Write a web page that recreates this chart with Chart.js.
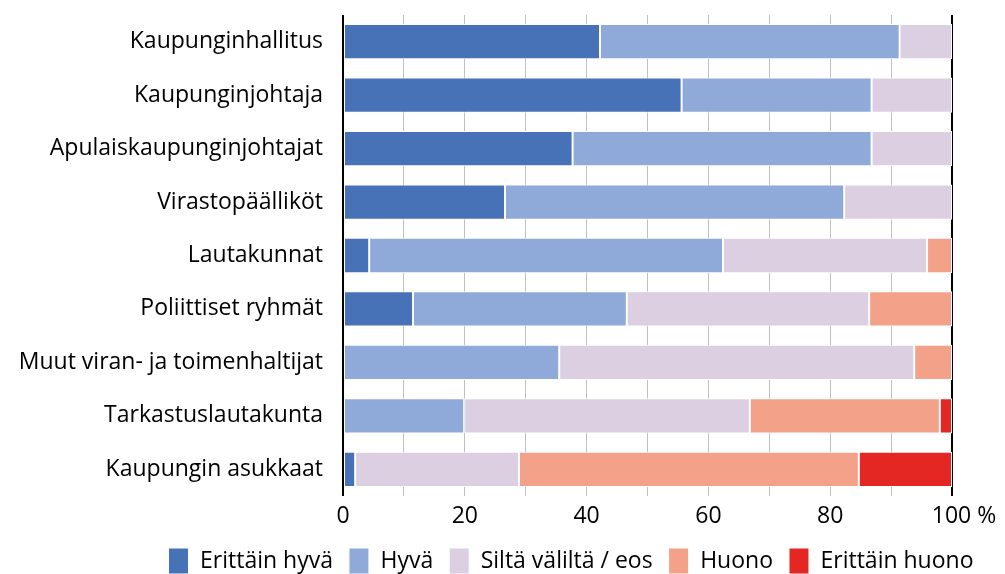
<!DOCTYPE html>
<html>
<head>
<meta charset="utf-8">
<script src="https://cdn.jsdelivr.net/npm/chart.js@4/dist/chart.umd.min.js"></script>
<style>
  body { margin: 0; background: #fff; }
  #wrap { width: 1005px; height: 574px; position: relative; }
</style>
</head>
<body>
<div id="wrap"><canvas id="chart"></canvas></div>
<script>
// kategoriat ja sarjat (% vastaajista)
const categories = [
  'Kaupunginhallitus', 'Kaupunginjohtaja', 'Apulaiskaupunginjohtajat',
  'Virastopäälliköt', 'Lautakunnat', 'Poliittiset ryhmät',
  'Muut viran- ja toimenhaltijat', 'Tarkastuslautakunta', 'Kaupungin asukkaat'
];
const seriesNames = ['Erittäin hyvä', 'Hyvä', 'Siltä väliltä / eos', 'Huono', 'Erittäin huono'];
const erittainHyva  = [42.2, 55.6, 37.7, 26.6, 4.3, 11.5, null, null, 2.0];
const hyva          = [49.2, 31.2, 49.1, 55.7, 58.1, 35.1, 35.5, 19.9, null];
const siltaValilta  = [8.6, 13.2, 13.2, 17.7, 33.5, 39.8, 58.3, 46.9, 26.9];
const huono         = [null, null, null, null, 4.1, 13.6, 6.2, 31.2, 55.8];
const erittainHuono = [null, null, null, null, null, null, null, 2.0, 15.3];
const xTicks = [0, 20, 40, 60, 80, 100];

const colors = ['#4872b8', '#8faad9', '#ddcfe2', '#f4a189', '#e42722'];
const values = [erittainHyva, hyva, siltaValilta, huono, erittainHuono];
const FONT = 'Open Sans';
const FS = 23;

const datasets = seriesNames.map((name, i) => ({
  label: name,
  data: values[i],
  backgroundColor: colors[i],
  borderColor: '#ffffff',
  borderWidth: 1,
  borderSkipped: false,
  barPercentage: 0.66,
  categoryPercentage: 1.0
}));

// selite hieman oikealle kuten alkuperäisessä
const shiftLegend = {
  id: 'shiftLegend',
  afterLayout(chart) {
    chart.legend.left += 95;
    chart.legend.right += 95;
  }
};

new Chart(document.getElementById('chart'), {
  type: 'bar',
  data: { labels: categories, datasets },
  plugins: [shiftLegend],
  options: {
    indexAxis: 'y',
    responsive: true,
    maintainAspectRatio: false,
    animation: false,
    layout: { padding: { top: 15, right: 53, left: 0, bottom: -10 } },
    scales: {
      x: {
        stacked: true,
        min: 0,
        max: 100,
        border: { display: false },
        afterFit: s => { s.height = 36; },
        grid: {
          drawTicks: false,
          color: c => (c.tick && (c.tick.value === 0 || c.tick.value === 100)) ? '#000' : '#c0c0c0',
          lineWidth: c => (c.tick && (c.tick.value === 0 || c.tick.value === 100)) ? 2 : 1
        },
        ticks: {
          stepSize: 10,
          padding: 7,
          maxRotation: 0,
          autoSkip: false,
          color: '#000',
          font: { family: FONT, size: FS },
          callback: v => xTicks.includes(v) ? (v === 100 ? '    100 %' : String(v)) : ''
        }
      },
      y: {
        stacked: true,
        grid: { display: false, drawTicks: true, tickLength: 20 },
        border: { display: false },
        afterFit: s => { s.width = 343; s.paddingTop = 0; s.paddingBottom = 0; },
        ticks: {
          padding: 0,
          color: '#000',
          font: { family: FONT, size: FS }
        }
      }
    },
    plugins: {
      legend: {
        position: 'bottom',
        labels: {
          boxWidth: 20,
          boxHeight: 26,
          padding: 16,
          color: '#000',
          font: { family: FONT, size: FS }
        }
      },
      tooltip: { enabled: false }
    }
  }
});
</script>
</body>
</html>
